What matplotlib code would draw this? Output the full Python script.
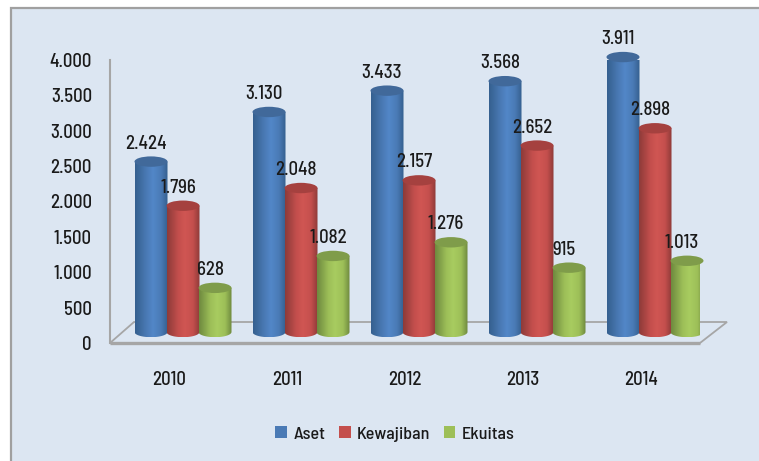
import numpy as np
import matplotlib
matplotlib.use('Agg')
from matplotlib import pyplot as plt
from matplotlib.colors import LinearSegmentedColormap
from matplotlib.patches import Patch, Polygon, Rectangle, Ellipse, PathPatch
from matplotlib.path import Path

years = ['2010', '2011', '2012', '2013', '2014']
aset = [2424, 3130, 3433, 3568, 3911]
kewajiban = [1796, 2048, 2157, 2652, 2898]
ekuitas = [628, 1082, 1276, 915, 1013]
series_names = ['Aset', 'Kewajiban', 'Ekuitas']
y_ticks = [0, 500, 1000, 1500, 2000, 2500, 3000, 3500, 4000]

W, H = 759, 461
plt.rcParams['font.family'] = ['Barlow Semi Condensed', 'Barlow Condensed', 'Liberation Sans', 'DejaVu Sans']
plt.rcParams['font.weight'] = 'medium'
text_col = '#1a1a1a'
bg = '#dce6f2'
grey = '#a6a6a6'
bar_scale = 0.0703  # px per unit at the depth of the bars

fig = plt.figure(figsize=(W / 100, H / 100), dpi=100, facecolor='white')
# outer panel
fig.add_artist(Rectangle((11 / W, -0.01), 748 / W + 0.01, 1 - 8 / H + 0.01, transform=fig.transFigure,
                         facecolor=bg, edgecolor='#a0a0a0', linewidth=1.6, zorder=-1))

ax = fig.add_axes([110 / W, 1 - 343 / H, 590 / W, 283 / H])
ax.patch.set_alpha(0)
ax.set_xlim(-0.5, 4.5)
ax.set_ylim(0, 4000)

# pixel size in data units
px_x = 5 / 590
px_y = 4000 / 283

# floor of the 3d box
floor = Polygon([(-0.5, 0), (-0.5 + 24 * px_x, 21 * px_y), (-0.5 + 617 * px_x, 21 * px_y), (-0.5 + 590 * px_x, 0)],
                closed=True, facecolor='none', edgecolor=grey, linewidth=1.3, clip_on=False, zorder=1)
ax.add_patch(floor)
ax.plot([-0.5, 4.5], [0, 0], color=grey, lw=2.4, clip_on=False, zorder=1, solid_capstyle='butt')

for s in ['top', 'right', 'bottom']:
    ax.spines[s].set_visible(False)
ax.spines['left'].set_color(grey)
ax.spines['left'].set_linewidth(1.5)

ax.set_yticks(y_ticks)
ax.set_yticklabels([f'{v:,}'.replace(',', '.') for v in y_ticks], fontsize=13.5, color=text_col)
ax.set_xticks(range(5))
ax.set_xticklabels(years, fontsize=13.5, color=text_col)
ax.tick_params(axis='y', length=0, pad=13)
ax.tick_params(axis='x', length=0, pad=20)


def cylinder(xc, val, edge, mid, light, top):
    cmap = LinearSegmentedColormap.from_list('c', [(0, edge), (0.35, mid), (0.55, light), (0.8, mid), (1, edge)])
    w = 16.5 * px_x
    base = 11 * px_y
    ry = 5.2 * px_y
    h = val * bar_scale * px_y
    x0, x1 = xc - w, xc + w
    y0, y1 = base, base + h
    t = np.linspace(np.pi, 2 * np.pi, 30)
    bottom = np.column_stack([xc + w * np.cos(t), y0 + ry * np.sin(t)])
    verts = np.vstack([bottom, [[x1, y1], [x0, y1]], bottom[:1]])
    clip = PathPatch(Path(verts), transform=ax.transData, facecolor='none', edgecolor='none')
    ax.add_patch(clip)
    im = ax.imshow(np.linspace(0, 1, 64).reshape(1, -1), extent=(x0, x1, y0 - ry, y1), cmap=cmap,
                   aspect='auto', zorder=3, interpolation='bilinear')
    im.set_clip_path(clip)
    ax.add_patch(Ellipse((xc, y1), 2 * w, 2 * ry, facecolor=top, edgecolor='none', zorder=3, clip_on=False))


styles = [
    (aset, ('#35608f', '#4a7ab5', '#5287c8', '#41699a')),
    (kewajiban, ('#8e3b39', '#c44f4d', '#d05653', '#a5413f')),
    (ekuitas, ('#6f8a3f', '#9dbf58', '#a8cc60', '#7f9c4a')),
]
offsets = [-32 + 14, 14, 32 + 14]
for i in range(len(years)):
    for (vals, cols), off in zip(styles, offsets):
        cylinder(i + off * px_x, vals[i], *cols)
for i in range(len(years)):
    for (vals, cols), off in zip(styles, offsets):
        xc = i + off * px_x
        yt = 11 * px_y + vals[i] * bar_scale * px_y
        ax.annotate(f'{vals[i]:,}'.replace(',', '.'), (xc, yt), xytext=(-5, 18), textcoords='offset pixels',
                    ha='center', va='center', fontsize=13.5, color=text_col, zorder=6, annotation_clip=False)

ax.set_xlim(-0.5, 4.5)
ax.set_ylim(0, 4000)

handles = [Patch(facecolor=c[1], label=n) for (_, c), n in zip(styles, series_names)]
fig.legend(handles=handles, loc='center', bbox_to_anchor=(395 / W, 1 - 434 / H), ncol=3, frameon=False,
           fontsize=13, handlelength=0.65, handleheight=0.65, handletextpad=0.35, columnspacing=0.75, labelcolor=text_col)

fig.savefig('out.png', dpi=100)
